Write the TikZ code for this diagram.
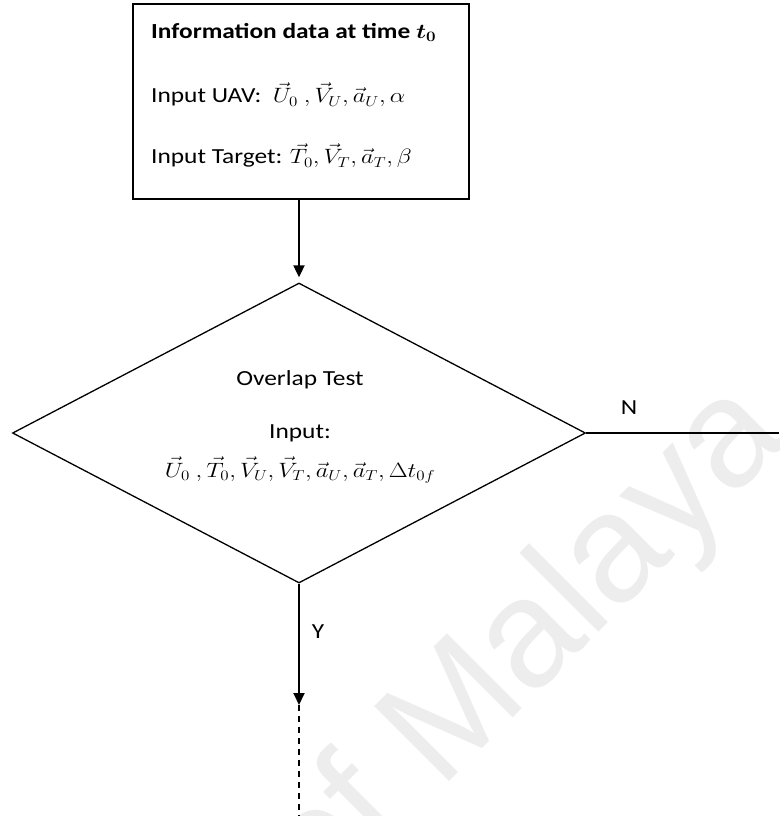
\documentclass[tikz,border=0pt]{standalone}
\usepackage{amsmath,bm,graphicx}
\usepackage{fontspec}
\setmainfont{Carlito}
\newfontfamily\wmfont{Liberation Sans}
\usetikzlibrary{shapes.geometric,arrows.meta}
\newcommand{\wx}[1]{\scalebox{1.18}[1]{#1}}
\begin{document}
\begin{tikzpicture}[x=1pt,y=-1pt,
  txt/.style={inner sep=0pt,font=\fontsize{21.5}{26}\selectfont},
  boxst/.style={draw,line width=1.6pt,inner sep=0pt,minimum width=336pt,minimum height=195pt},
  diast/.style={draw,diamond,line width=1.3pt,inner sep=0pt,minimum width=573pt,minimum height=300pt},
  arr/.style={line width=1.9pt,-{Triangle[length=12pt,width=11pt]}},
  plainline/.style={line width=1.5pt},
  dashline/.style={line width=1.3pt,dash pattern=on 6pt off 5pt}]
\useasboundingbox (0,0) rectangle (779,816);
\clip (0,0) rectangle (779,816);
% watermark
\node[anchor=base west,inner sep=0pt,rotate=45,text=black!7,font=\wmfont\fontsize{154}{154}\selectfont] (wm) at (319,912) {of Malaya};
% box
\node[boxst] (box) at (301,101.5) {};
\node[txt,anchor=west] (t1) at (151,32) {\wx{\textbf{Information data at time $\bm{t_0}$}}};
\node[txt,anchor=west] (t2) at (151,95) {\wx{Input UAV:\ \ $\vec{U}_0\ ,\vec{V}_U,\vec{a}_U,\alpha$}};
\node[txt,anchor=west] (t3) at (151,156) {\wx{Input Target: $\vec{T}_0,\vec{V}_T,\vec{a}_T,\beta$}};
% diamond
\node[diast] (dia) at (299,433) {};
\node[txt] (d1) at (300,380) {\wx{Overlap Test}};
\node[txt] (d2) at (300,433) {\wx{Input:}};
\node[txt] (d3) at (300,470) {\wx{$\vec{U}_0\ ,\vec{T}_0,\vec{V}_U,\vec{V}_T,\vec{a}_U,\vec{a}_T,\Delta t_{0f}$}};
% connectors
\coordinate (nend) at (779,433);
\coordinate (yend) at (299,705);
\coordinate (dend) at (299,816);
\draw[arr,shorten >=5pt] (box.south -| dia.north) -- (dia.north);
\draw[plainline] (dia.east) -- (nend);
\node[txt] (nlab) at (629,408) {\wx{N}};
\draw[arr] (dia.south) -- (yend);
\node[txt] (ylab) at (318,632) {\wx{Y}};
\draw[dashline] (yend) -- (dend);
\end{tikzpicture}
\end{document}
